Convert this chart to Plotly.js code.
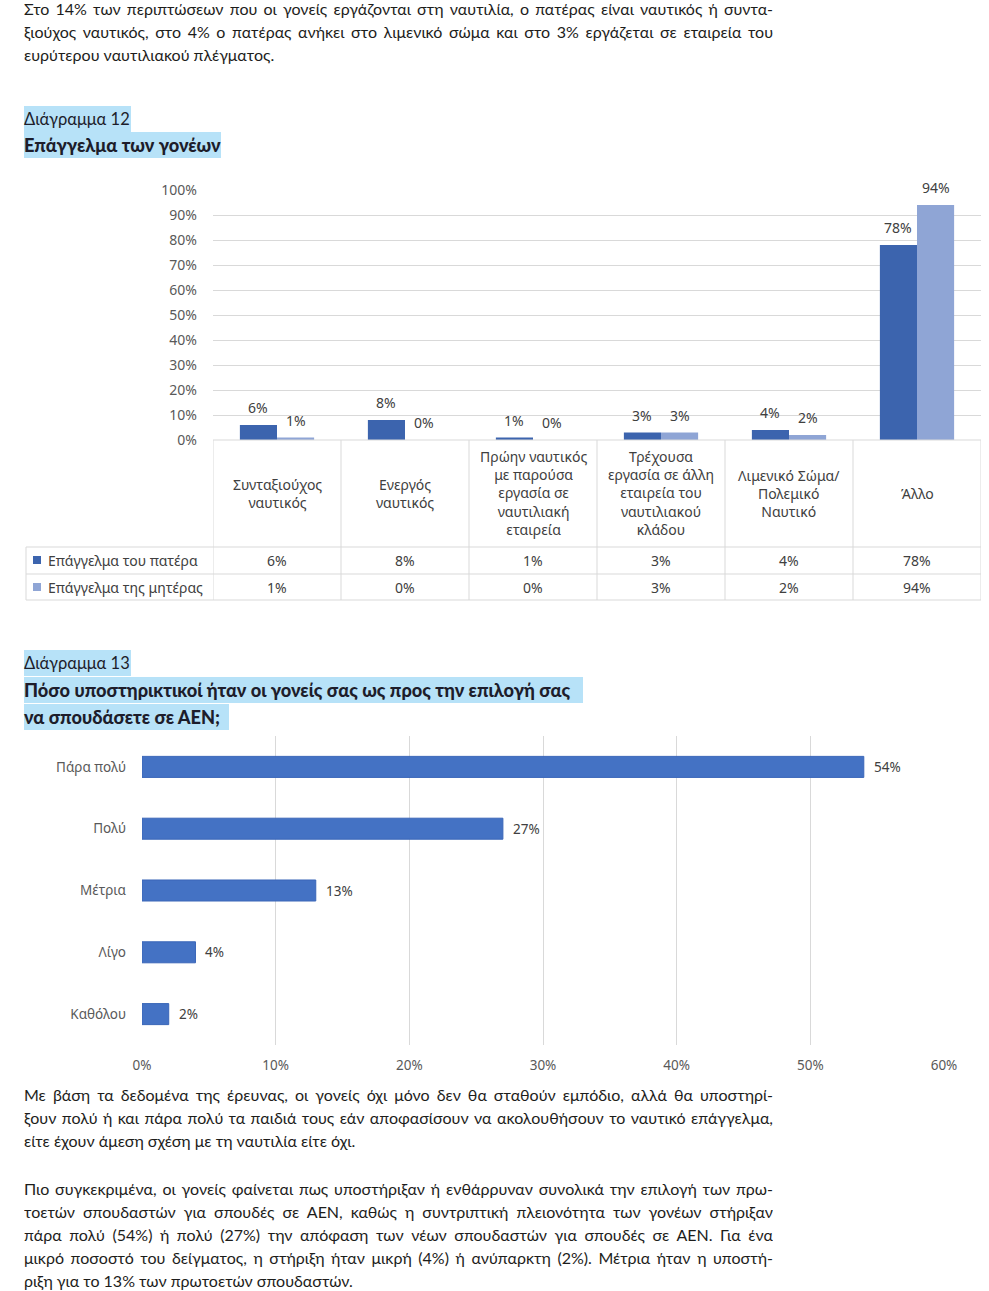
<!DOCTYPE html>
<html><head><meta charset="utf-8">
<script src="https://cdn.plot.ly/plotly-3.0.1.min.js"></script>
<style>
body{margin:0;width:989px;height:1291px;position:relative;background:#fff;overflow:hidden;}
.p{position:absolute;left:24px;width:749px;font-family:'Lato','Noto Sans',sans-serif;font-size:16px;color:#1d1d1b;}
.p div{height:23px;line-height:23px;white-space:nowrap;}
.p div.j{text-align:justify;text-align-last:justify;white-space:normal;overflow:hidden;}
.h{position:absolute;left:24px;height:26px;line-height:26px;background:#B7E2F8;font-family:'Lato','Noto Sans',sans-serif;font-size:16.5px;color:#1d1d2b;white-space:nowrap;}
.hb{font-weight:900;font-size:18.2px;}
#c12{position:absolute;left:0;top:175px;width:989px;height:435px;}
#c13{position:absolute;left:0;top:730px;width:989px;height:350px;}
</style></head>
<body>
<div class="p" style="top:-3px">
<div class="j">Στο 14% των περιπτώσεων που οι γονείς εργάζονται στη ναυτιλία, ο πατέρας είναι ναυτικός ή συντα-</div>
<div class="j">ξιούχος ναυτικός, στο 4% ο πατέρας ανήκει στο λιμενικό σώμα και στο 3% εργάζεται σε εταιρεία του</div>
<div>ευρύτερου ναυτιλιακού πλέγματος.</div>
</div>
<div class="h" style="top:106px;width:107px">Διάγραμμα 12</div>
<div class="h hb" style="top:132px;width:197px">Επάγγελμα των γονέων</div>
<div id="c12"></div>
<div class="h" style="top:650px;width:107px">Διάγραμμα 13</div>
<div class="h hb" style="top:677px;width:559px">Πόσο υποστηρικτικοί ήταν οι γονείς σας ως προς την επιλογή σας</div>
<div class="h hb" style="top:704px;width:205px">να σπουδάσετε σε ΑΕΝ;</div>
<div id="c13"></div>
<div class="p" style="top:1083px">
<div class="j">Με βάση τα δεδομένα της έρευνας, οι γονείς όχι μόνο δεν θα σταθούν εμπόδιο, αλλά θα υποστηρί-</div>
<div class="j">ξουν πολύ ή και πάρα πολύ τα παιδιά τους εάν αποφασίσουν να ακολουθήσουν το ναυτικό επάγγελμα,</div>
<div>είτε έχουν άμεση σχέση με τη ναυτιλία είτε όχι.</div>
</div>
<div class="p" style="top:1177px">
<div class="j">Πιο συγκεκριμένα, οι γονείς φαίνεται πως υποστήριξαν ή ενθάρρυναν συνολικά την επιλογή των πρω-</div>
<div class="j">τοετών σπουδαστών για σπουδές σε ΑΕΝ, καθώς η συντριπτική πλειονότητα των γονέων στήριξαν</div>
<div class="j">πάρα πολύ (54%) ή πολύ (27%) την απόφαση των νέων σπουδαστών για σπουδές σε ΑΕΝ. Για ένα</div>
<div class="j">μικρό ποσοστό του δείγματος, η στήριξη ήταν μικρή (4%) ή ανύπαρκτη (2%). Μέτρια ήταν η υποστή-</div>
<div>ριξη για το 13% των πρωτοετών σπουδαστών.</div>
</div>
<script>
// ---- Chart 12 data ----
const categories12 = ["Συνταξιούχος<br>ναυτικός","Ενεργός<br>ναυτικός","Πρώην ναυτικός<br>με παρούσα<br>εργασία σε<br>ναυτιλιακή<br>εταιρεία","Τρέχουσα<br>εργασία σε άλλη<br>εταιρεία του<br>ναυτιλιακού<br>κλάδου","Λιμενικό Σώμα/<br>Πολεμικό<br>Ναυτικό","Άλλο"];
const fatherValues = [6, 8, 1, 3, 4, 78];
const motherValues = [1, 0, 0, 3, 2, 94];
const seriesNames12 = ["Επάγγελμα του πατέρα", "Επάγγελμα της μητέρας"];
const yTicks12 = [0,10,20,30,40,50,60,70,80,90,100];

// ---- Chart 13 data ----
const categories13 = ["Πάρα πολύ", "Πολύ", "Μέτρια", "Λίγο", "Καθόλου"];
const values13 = [54, 27, 13, 4, 2];
const xTicks13 = [0,10,20,30,40,50,60];

const FONT = "'Noto Sans', sans-serif";
const C_FATHER = '#3C64AE', C_MOTHER = '#8FA5D5', C_BAR13 = '#4472C4';
const GRID = '#D9D9D9', TXT = '#404040', TICK = '#595959';

(function(){
  const n = categories12.length;
  const seriesVals = [fatherValues, motherValues];
  const colors = [C_FATHER, C_MOTHER];
  const traces = seriesVals.map((v, s) => ({
    type:'bar', x: categories12, y: v, name: seriesNames12[s],
    marker:{color: colors[s]}, hoverinfo:'skip', cliponaxis:false
  }));
  const plotW = 989 - 213 - 8, plotH = 250;
  const catW = plotW / n;
  const bargap = 0.42;
  const barW = catW * (1 - bargap) / 2;
  const px2y = p => -p / plotH;
  const px2x = p => p / plotW;
  const rowTop = px2y(107), row1 = px2y(134), row2 = px2y(160);
  const leftX = px2x(26 - 213);
  const line = {color: GRID, width: 1};
  const shapes = [];
  for (let i = 0; i <= n; i++) {
    shapes.push({type:'line', xref:'x', yref:'paper', x0:i-0.5, x1:i-0.5, y0:0, y1:row2, line});
  }
  shapes.push({type:'line', xref:'x', yref:'paper', x0:-0.5, x1:n-0.5, y0:0, y1:0, line});
  [rowTop, row1, row2].forEach(y => shapes.push({type:'line', xref:'paper', yref:'paper', x0:leftX, x1:1, y0:y, y1:y, line}));
  shapes.push({type:'line', xref:'paper', yref:'paper', x0:leftX, x1:leftX, y0:rowTop, y1:row2, line});
  const annotations = [];
  seriesVals.forEach((v, s) => v.forEach((val, i) => annotations.push({
    xref:'x', yref:'y', x: categories12[i], y: val, xshift: (s === 0 ? -1 : 1) * barW / 2,
    yshift: 6, yanchor:'bottom', xanchor:'center', showarrow:false,
    text: val + '%', font:{family:FONT, size:14, color:TXT}
  })));
  categories12.forEach((c, i) => annotations.push({
    xref:'x', yref:'paper', x: c, y: px2y(53), yanchor:'middle', xanchor:'center',
    showarrow:false, text: c, font:{family:FONT, size:14, color:TXT}
  }));
  const rowCenters = [px2y(120), px2y(147)];
  seriesVals.forEach((v, s) => {
    v.forEach((val, i) => annotations.push({
      xref:'x', yref:'paper', x: categories12[i], y: rowCenters[s], yanchor:'middle', xanchor:'center',
      showarrow:false, text: val + '%', font:{family:FONT, size:14, color:TXT}
    }));
    annotations.push({
      xref:'paper', yref:'paper', x: px2x(46 - 213), y: rowCenters[s], xanchor:'left', yanchor:'middle',
      showarrow:false, text: seriesNames12[s], font:{family:FONT, size:14, color:TXT}
    });
    shapes.push({type:'rect', xref:'paper', yref:'paper', x0:px2x(33-213), x1:px2x(41-213),
      y0: rowCenters[s] + 4/plotH, y1: rowCenters[s] - 4/plotH, fillcolor: colors[s], line:{width:0}});
  });
  Plotly.newPlot('c12', traces, {
    width:989, height:435, margin:{l:213, r:8, t:15, b:170},
    paper_bgcolor:'#fff', plot_bgcolor:'#fff',
    barmode:'group', bargap: bargap, bargroupgap:0, showlegend:false,
    font:{family:FONT, size:14, color:TICK},
    xaxis:{type:'category', range:[-0.5, n-0.5], showticklabels:false, showgrid:false, zeroline:false, showline:false, fixedrange:true},
    yaxis:{range:[0,100], tickvals:yTicks12, ticktext:yTicks12.map(t=>t+'%'), gridcolor:GRID, gridwidth:1,
      zeroline:false, showline:false, ticks:'', ticklabelstandoff:15, tickfont:{family:FONT, size:14, color:TICK}, fixedrange:true},
    shapes, annotations
  }, {staticPlot:true});
})();

(function(){
  const annotations = values13.map((v, i) => ({
    xref:'x', yref:'y', x: v, y: categories13[i], xanchor:'left', yanchor:'middle', xshift:8,
    showarrow:false, text: v + '%', font:{family:FONT, size:13.5, color:TXT}
  }));
  Plotly.newPlot('c13', [{
    type:'bar', orientation:'h', x: values13, y: categories13,
    marker:{color:C_BAR13, line:{color:'#3A66B8', width:1}}, hoverinfo:'skip'
  }], {
    width:989, height:350, margin:{l:142, r:45, t:6, b:35},
    paper_bgcolor:'#fff', plot_bgcolor:'#fff', bargap:0.66, showlegend:false,
    font:{family:FONT, size:13.5, color:TICK},
    xaxis:{range:[0,60], tickvals:xTicks13, ticktext:xTicks13.map(t=>t+'%'), gridcolor:GRID, gridwidth:1,
      zeroline:false, showline:false, ticks:'', ticklabelstandoff:10, tickfont:{family:FONT, size:13.5, color:TICK}, fixedrange:true},
    yaxis:{type:'category', autorange:'reversed', showgrid:false, zeroline:false, showline:false, ticks:'',
      ticklabelstandoff:15, tickfont:{family:FONT, size:13.5, color:TICK}, fixedrange:true},
    annotations
  }, {staticPlot:true});
})();
</script>
</body></html>
